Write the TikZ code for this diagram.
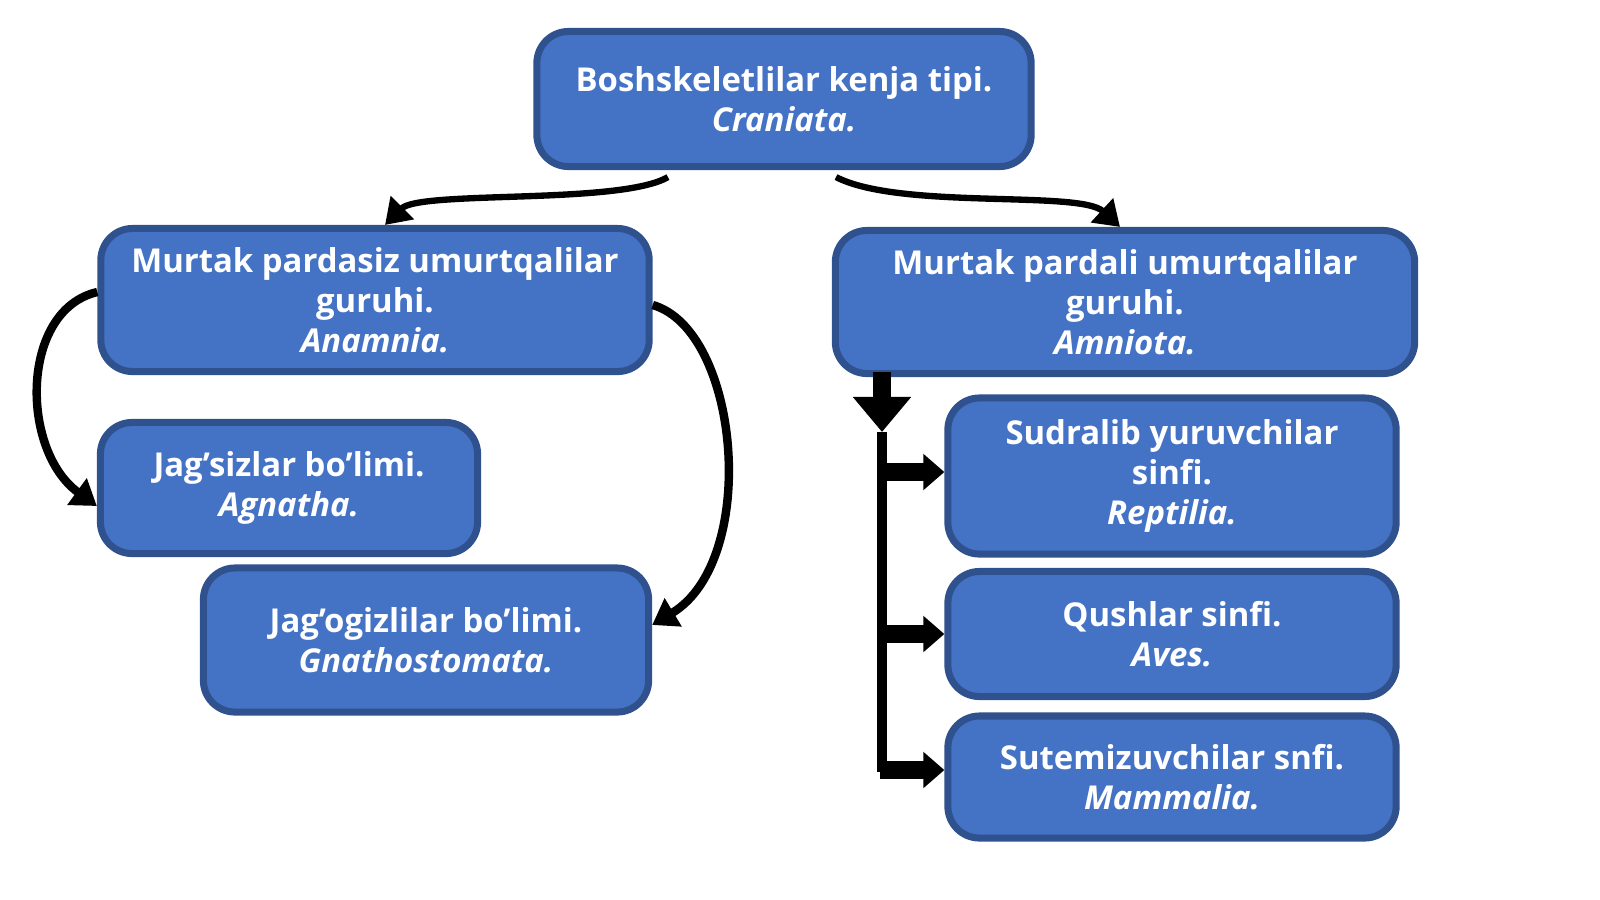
\documentclass[tikz,border=0pt]{standalone}
\usepackage{fontspec}
\setmainfont{Open Sans}
\usetikzlibrary{arrows.meta}
\definecolor{boxfill}{HTML}{4472C4}
\definecolor{boxline}{HTML}{2F528F}
\tikzset{box/.style = {draw=boxline, line width=2pt, fill=boxfill, rounded corners=9pt, align=center, text=white, font=\fontsize{9.35}{11.4}\selectfont\bfseries, inner sep=0pt},
         link/.style = {line width=1.8pt, -{Triangle[length=7pt, width=9pt]}}}
\begin{document}
\begin{tikzpicture}[x=0.01cm, y=-0.01cm]
\useasboundingbox (0,0) rectangle (1600,899);
\node[box, minimum width=4.94cm, minimum height=1.35cm] (craniata) at (784,99) {Boshskeletlilar kenja tipi.\\\textit{Craniata.}};
\node[box, minimum width=5.48cm, minimum height=1.43cm] (anamnia) at (375,300) {Murtak pardasiz umurtqalilar\\guruhi.\\\textit{Anamnia.}};
\node[box, minimum width=5.79cm, minimum height=1.43cm] (amniota) at (1125,302) {Murtak pardali umurtqalilar\\guruhi.\\\textit{Amniota.}};
\node[box, minimum width=3.77cm, minimum height=1.31cm] (agnatha) at (289,488) {Jag’sizlar bo’limi.\\\textit{Agnatha.}};
\node[box, minimum width=4.45cm, minimum height=1.44cm] (gnatho) at (426,640) {Jag’ogizlilar bo’limi.\\\textit{Gnathostomata.}};
\node[box, minimum width=4.48cm, minimum height=1.56cm] (reptilia) at (1172,476) {Sudralib yuruvchilar\\sinfi.\\\textit{Reptilia.}};
\node[box, minimum width=4.48cm, minimum height=1.25cm] (aves) at (1172,634) {Qushlar sinfi.\\\textit{Aves.}};
\node[box, minimum width=4.48cm, minimum height=1.22cm] (mammalia) at (1172,777) {Sutemizuvchilar snfi.\\\textit{Mammalia.}};
% connectors
\draw[link] ([xshift=-1.16cm, yshift=-2pt]craniata.south) .. controls (620,205) and (420,190) .. ([xshift=0.1cm]anamnia.north);
\draw[link] ([xshift=0.52cm, yshift=-2pt]craniata.south) .. controls (900,210) and (1080,190) .. ([xshift=-0.05cm]amniota.north);
\draw[link, line width=2.4pt] ([yshift=0.08cm]anamnia.west) .. controls (20,310) and (20,450) .. ([yshift=-0.18cm]agnatha.west);
\draw[link, line width=2.4pt] ([yshift=-0.05cm]anamnia.east) .. controls (740,330) and (760,560) .. ([yshift=0.15cm]gnatho.east);
\coordinate (trunk) at (882,432);
\draw[line width=3pt] (trunk) -- (882,772);
\draw[line width=5pt, -{Triangle[length=10pt, width=16pt]}] (882,372) -- (trunk);
\draw[line width=5pt, -{Triangle[length=6pt, width=10pt]}] (880,472) -- (reptilia.west |- 0,472);
\draw[line width=5pt, -{Triangle[length=6pt, width=10pt]}] (880,634) -- (aves.west);
\draw[line width=5pt, -{Triangle[length=6pt, width=10pt]}] (880,770) -- (mammalia.west |- 0,770);
\end{tikzpicture}
\end{document}
